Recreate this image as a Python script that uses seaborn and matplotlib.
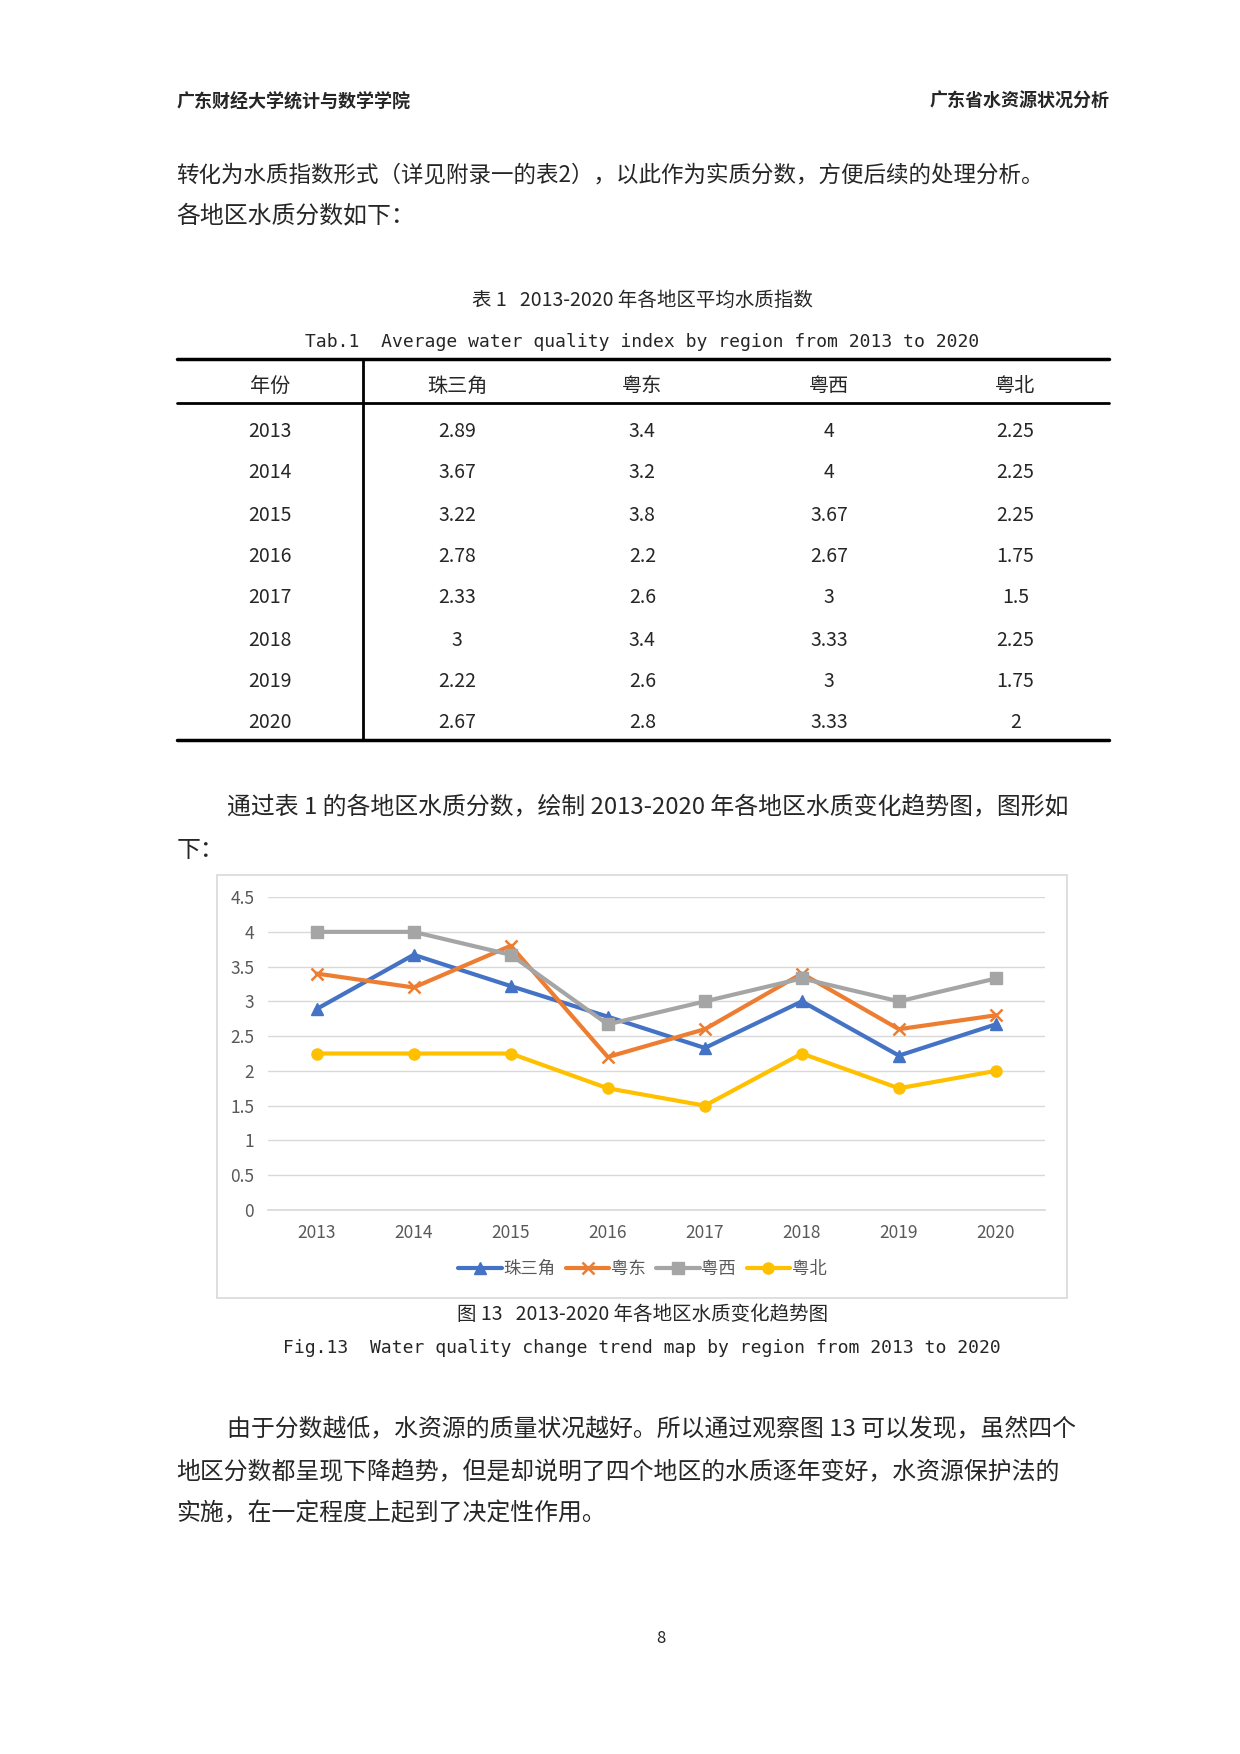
import matplotlib
matplotlib.use("Agg")
import matplotlib.pyplot as plt
import seaborn as sns
import pandas as pd
from matplotlib.lines import Line2D
from matplotlib.patches import Rectangle

years = ["2013", "2014", "2015", "2016", "2017", "2018", "2019", "2020"]
regions = ["珠三角", "粤东", "粤西", "粤北"]
zsj = [2.89, 3.67, 3.22, 2.78, 2.33, 3, 2.22, 2.67]
yd = [3.4, 3.2, 3.8, 2.2, 2.6, 3.4, 2.6, 2.8]
yx = [4, 4, 3.67, 2.67, 3, 3.33, 3, 3.33]
yb = [2.25, 2.25, 2.25, 1.75, 1.5, 2.25, 1.75, 2]
yticks = [0, 0.5, 1, 1.5, 2, 2.5, 3, 3.5, 4, 4.5]
colors = ["#4472C4", "#ED7D31", "#A5A5A5", "#FFC000"]
markers = ["^", "x", "s", "o"]

sns.set_theme(style="white")
plt.rcParams['font.family'] = ['Noto Sans CJK SC', 'DejaVu Sans']

W, H = 1110.0, 1570.0
fig = plt.figure(figsize=(12.4, 17.54), dpi=100)
def fx(x): return x / W
def fy(y): return 1 - y / H
def t(x, y, s, size=17.2, ha="left", **kw):
    fig.text(fx(x), fy(y), s, fontsize=size, ha=ha, va="center", **kw)

t(158, 91, "广东财经大学统计与数学学院", 13, weight="bold")
t(993, 91, "广东省水资源状况分析", 13, ha="right", weight="bold")
t(158, 157, "转化为水质指数形式（详见附录一的表2），以此作为实质分数，方便后续的处理分析。", 16.2)
t(158, 193, "各地区水质分数如下：")
t(575, 269, "表 1   2013-2020 年各地区平均水质指数", 14, ha="center")
t(575, 306, "Tab.1  Average water quality index by region from 2013 to 2020", 13, ha="center", family=['DejaVu Sans Mono'])

for y, lw in [(321, 2.5), (361, 2.0), (662, 2.5)]:
    fig.add_artist(Line2D([fx(158), fx(993)], [fy(y), fy(y)], color="black", lw=lw))
fig.add_artist(Line2D([fx(325), fx(325)], [fy(321), fy(662)], color="black", lw=2))
colx = [242, 409, 575, 742, 909]
for c, h in zip(colx, ["年份"] + regions):
    t(c, 346, h, 14.5, ha="center")
rowy = [386, 423, 461, 498, 535, 573, 610, 647]
fmt = lambda v: ("%g" % v)
for i, y in enumerate(rowy):
    vals = [years[i], fmt(zsj[i]), fmt(yd[i]), fmt(yx[i]), fmt(yb[i])]
    for c, v in zip(colx, vals):
        t(c, y, v, 14, ha="center")

t(203, 723, "通过表 1 的各地区水质分数，绘制 2013-2020 年各地区水质变化趋势图，图形如")
t(158, 761, "下：")

fig.add_artist(Rectangle((fx(194), fy(1162)), fx(955) - fx(194), fy(783) - fy(1162),
                         fill=False, edgecolor="#D9D9D9", lw=1.2))

ax = fig.add_axes([fx(240), fy(1083), fx(935) - fx(240), fy(803) - fy(1083)])
df = pd.DataFrame({"year": years * 4,
                   "value": zsj + yd + yx + yb,
                   "region": sum([[r] * 8 for r in regions], [])})
df["xi"] = list(range(8)) * 4
for r, c, m in zip(regions, colors, markers):
    sub = df[df.region == r]
    sns.lineplot(data=sub, x="xi", y="value", color=c, marker=m, markersize=8,
                 markeredgecolor=c, markeredgewidth=1.8 if m == "x" else 1,
                 lw=3, ax=ax, label=r, legend=False)
ax.set_xlim(-0.5, 7.5)
ax.set_ylim(0, 4.5)
ax.set_yticks(yticks)
ax.set_yticklabels([("%g" % v) for v in yticks], color="#595959", fontsize=12.5)
ax.set_xticks(range(8))
ax.set_xticklabels(years, color="#595959", fontsize=12.5)
ax.tick_params(axis="both", length=0, pad=10)
ax.grid(axis="y", color="#D9D9D9", lw=1)
for s in ["top", "right", "left"]:
    ax.spines[s].set_visible(False)
ax.spines["bottom"].set_color("#D9D9D9")
ax.set_xlabel("")
ax.set_ylabel("")
h, l = ax.get_legend_handles_labels()
fig.legend(h, l, loc="center", bbox_to_anchor=(fx(575), fy(1136)), ncol=4, frameon=False,
           fontsize=12.5, handlelength=2.5, columnspacing=0.6, handletextpad=0.1,
           labelcolor="#595959")

t(575, 1177, "图 13   2013-2020 年各地区水质变化趋势图", 14, ha="center")
t(575, 1207, "Fig.13  Water quality change trend map by region from 2013 to 2020", 13, ha="center", family=['DejaVu Sans Mono'])

t(203, 1280, "由于分数越低，水资源的质量状况越好。所以通过观察图 13 可以发现，虽然四个")
t(158, 1318, "地区分数都呈现下降趋势，但是却说明了四个地区的水质逐年变好，水资源保护法的")
t(158, 1355, "实施，在一定程度上起到了决定性作用。")
t(592, 1467, "8", 12, ha="center")

fig.savefig("out.png", dpi=100)
